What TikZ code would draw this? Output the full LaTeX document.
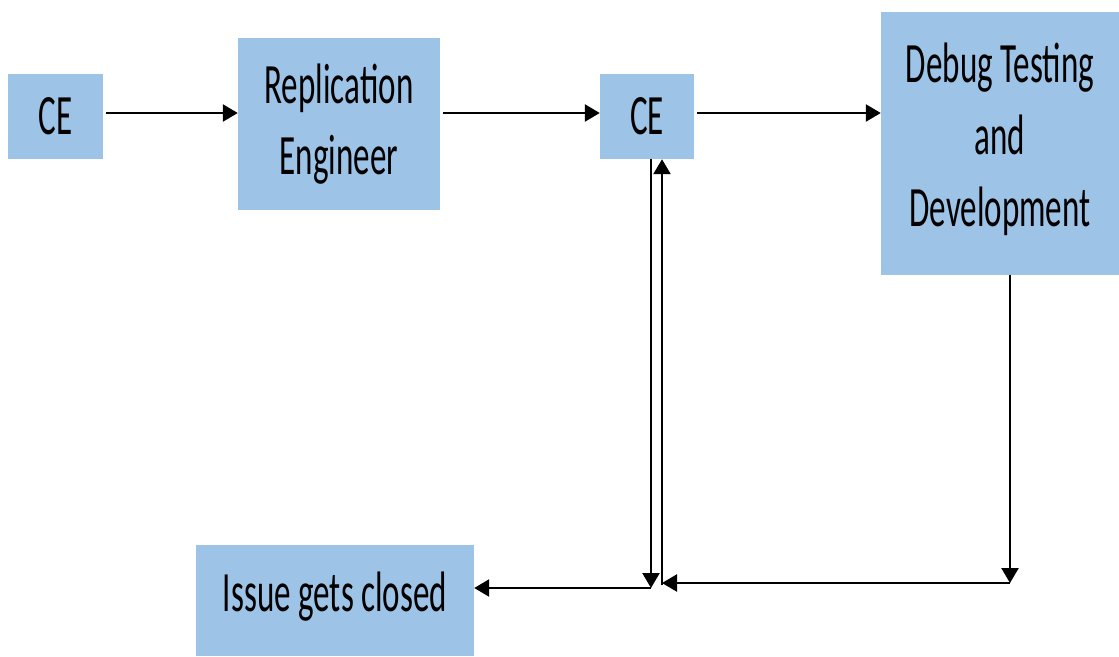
\documentclass[tikz,border=0pt]{standalone}
\usepackage{fontspec}
\setmainfont[FakeStretch=0.58]{Carlito}
\usetikzlibrary{arrows.meta}
\definecolor{boxblue}{HTML}{9DC3E6}
\newcommand{\liftby}[2]{\raisebox{#1}[\height][\depth]{#2}}
\begin{document}
\begin{tikzpicture}[x=1pt,y=-1pt,
  box/.style={fill=boxblue,draw=none,inner sep=0pt,align=center,
    font=\fontsize{57}{71}\selectfont,text=black},
  arr/.style={line width=2.4pt,-{Triangle[length=15pt,width=17pt]}}]
\useasboundingbox (0,0) rectangle (1119,656);
\node[box,minimum width=95pt,minimum height=85pt] (ce1) at (55.5,116.5) {CE};
\node[box,minimum width=202pt,minimum height=172pt] (rep) at (339,124) {Replication\\Engineer};
\node[box,minimum width=94pt,minimum height=85pt] (ce2) at (647,116.5) {CE};
\node[box,minimum width=238pt,minimum height=263pt] (dbg) at (1000,143.5) {\liftby{4pt}{\parbox{238pt}{\centering\fontsize{57}{72}\selectfont Debug Testing\\and\\Development}}};
\node[box,minimum width=278pt,minimum height=111pt] (iss) at (335,600.5) {\liftby{4pt}{Issue gets closed}};
\coordinate (j1) at (651,588);
\coordinate (j2) at (1010,583);
\coordinate (j3) at (662,585);
\draw[arr,shorten <=3pt] (ce1.east |- 0,113) -- (rep.west |- 0,113);
\draw[arr,shorten <=3pt] (rep.east |- 0,113) -- (ce2.west |- 0,113);
\draw[arr,shorten <=3pt] (ce2.east |- 0,113) -- (dbg.west |- 0,113);
\draw[arr] (ce2.south -| j1) -- (j1);
\draw[arr] (j1) -- (iss.east |- j1);
\draw[arr] (dbg.south -| j2) -- (j2);
\draw[arr] (j2) -- (j3 |- j2);
\draw[arr] (j3) -- (ce2.south -| j3);
\end{tikzpicture}
\end{document}
